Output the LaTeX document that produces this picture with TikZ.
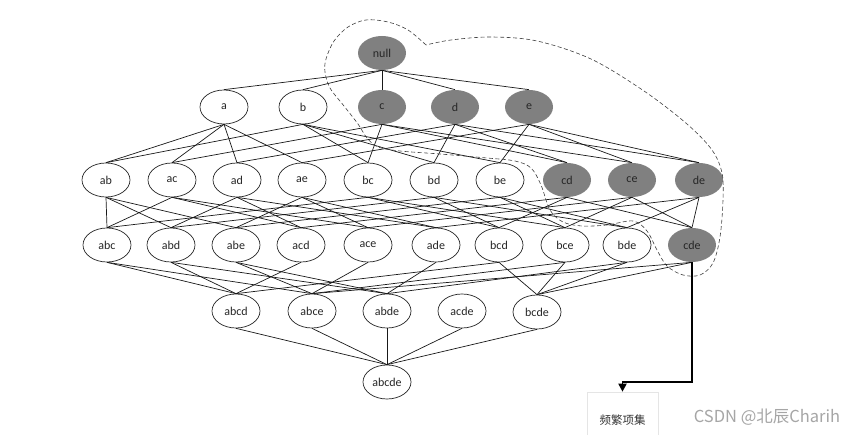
\documentclass[tikz,border=0pt]{standalone}
\usepackage{fontspec}
\setmainfont{Carlito}
\newfontfamily\cjk{Noto Sans CJK SC}
\usetikzlibrary{arrows.meta,shapes.geometric}
\definecolor{nodegray}{RGB}{128,128,128}
\begin{document}
\begin{tikzpicture}[x=1pt,y=-1pt,
  setnode/.style={ellipse, draw=black!85, line width=0.7pt, fill=white,
    minimum width=48pt, minimum height=34pt, inner sep=0pt,
    font=\fontsize{12}{14}\selectfont, text=black!85},
  freqnode/.style={setnode, draw=none, fill=nodegray},
  edge/.style={line width=0.7pt, black!90},
  region/.style={dashed, dash pattern=on 4pt off 2.5pt, line width=0.6pt, black!75},
  pointer/.style={line width=1.8pt, black, -{Triangle[width=8pt,length=8pt]}},
  boxstyle/.style={draw=black!10, line width=0.6pt, minimum width=71pt, minimum height=44pt, inner sep=0pt},
]
\fill[white] (0,0) rectangle (857,435);
\useasboundingbox (0,0) rectangle (857,435);

% level 0
\node[freqnode] (null) at (382,53) {null};
% level 1
\foreach \n/\x in {a/224, b/303} \node[setnode] (\n) at (\x,107) {\n};
\foreach \n/\x in {c/382, d/455, e/529} \node[freqnode] (\n) at (\x,107) {\n};
% level 2
\foreach \n/\x in {ab/106, ac/172, ad/237, ae/302, bc/368, bd/434, be/500}
  \node[setnode] (\n) at (\x,180) {\n};
\foreach \n/\x in {cd/567, ce/632, de/699} \node[freqnode] (\n) at (\x,180) {\n};
% level 3
\foreach \n/\x in {abc/107, abd/171, abe/236, acd/301, ace/368, ade/436, bcd/499, bce/565, bde/627}
  \node[setnode] (\n) at (\x,245) {\n};
\node[freqnode] (cde) at (692,245) {cde};
% level 4
\foreach \n/\x in {abcd/236, abce/312, abde/387, acde/462}
  \node[setnode] (\n) at (\x,311) {\n};
\node[setnode] (bcde) at (537,312) {bcde};
% level 5
\node[setnode] (abcde) at (387,382) {abcde};

% edges
\foreach \c in {a,b,c,d,e} \draw[edge] (null.south) -- (\c.north);
\foreach \p/\c in {a/ab,a/ac,a/ad,a/ae, b/ab,b/bc,b/bd,b/be, c/ac,c/bc,c/cd,c/ce,
    d/ad,d/bd,d/cd,d/de, e/ae,e/be,e/ce,e/de}
  \draw[edge] (\p.south) -- (\c.north);
\foreach \p/\c in {ab/abc,ab/abd,ab/abe, ac/abc,ac/acd,ac/ace, ad/abd,ad/acd,ad/ade,
    ae/abe,ae/ace,ae/ade, bc/abc,bc/bcd,bc/bce, bd/abd,bd/bcd,bd/bde,
    be/abe,be/bce,be/bde, cd/acd,cd/bcd,cd/cde, ce/ace,ce/bce,ce/cde,
    de/ade,de/bde,de/cde}
  \draw[edge] (\p.south) -- (\c.north);
\foreach \p/\c in {abc/abcd,abc/abce, abd/abcd,abd/abde, abe/abce,abe/abde,
    acd/abcd, ace/abce, ade/abde, bcd/abcd,bcd/bcde, bce/abce,bce/bcde,
    bde/abde,bde/bcde, cde/bcde, cde/abce}
  \draw[edge] (\p.south) -- (\c.north);
\foreach \p in {abcd,abce,abde,acde,bcde} \draw[edge] (\p.south) -- (abcde.north);

% dashed region of frequent itemsets
\draw[region] plot[smooth, tension=0.55] coordinates {
  (426,45) (408,30) (388,22) (366,20) (348,27) (334,41) (326,59) (325,72)
  (330,88) (344,106) (358,124) (367,138) (378,147) (400,151) (440,154)
  (487,158) (515,161) (531,168) (541,185) (550,210) (563,222) (582,226)
  (607,225) (633,221) (647,231) (657,250) (667,266) (683,275) (700,275)
  (713,263) (720,237) (723,200) (722,173) (712,150) (687,124) (644,91)
  (591,59) (537,41) (491,37) (451,40) (426,45)};

% frequent itemsets box and pointer
\node[boxstyle] (freqbox) at (622.5,414) {};
\node[font=\cjk\fontsize{11.5}{13}\selectfont, text=black!80, inner sep=0pt] (freqtext) at (622.5,420) {频繁项集};
\coordinate (corner) at (692,382);
\draw[pointer] (cde.south) -- (corner) -- (corner -| freqbox.north) -- (freqbox.north);

% watermark
\node[font=\cjk\fontsize{16.5}{18}\selectfont, text=black!35, inner sep=0pt] (wm) at (767,417) {CSDN @北辰Charih};
\end{tikzpicture}
\end{document}
